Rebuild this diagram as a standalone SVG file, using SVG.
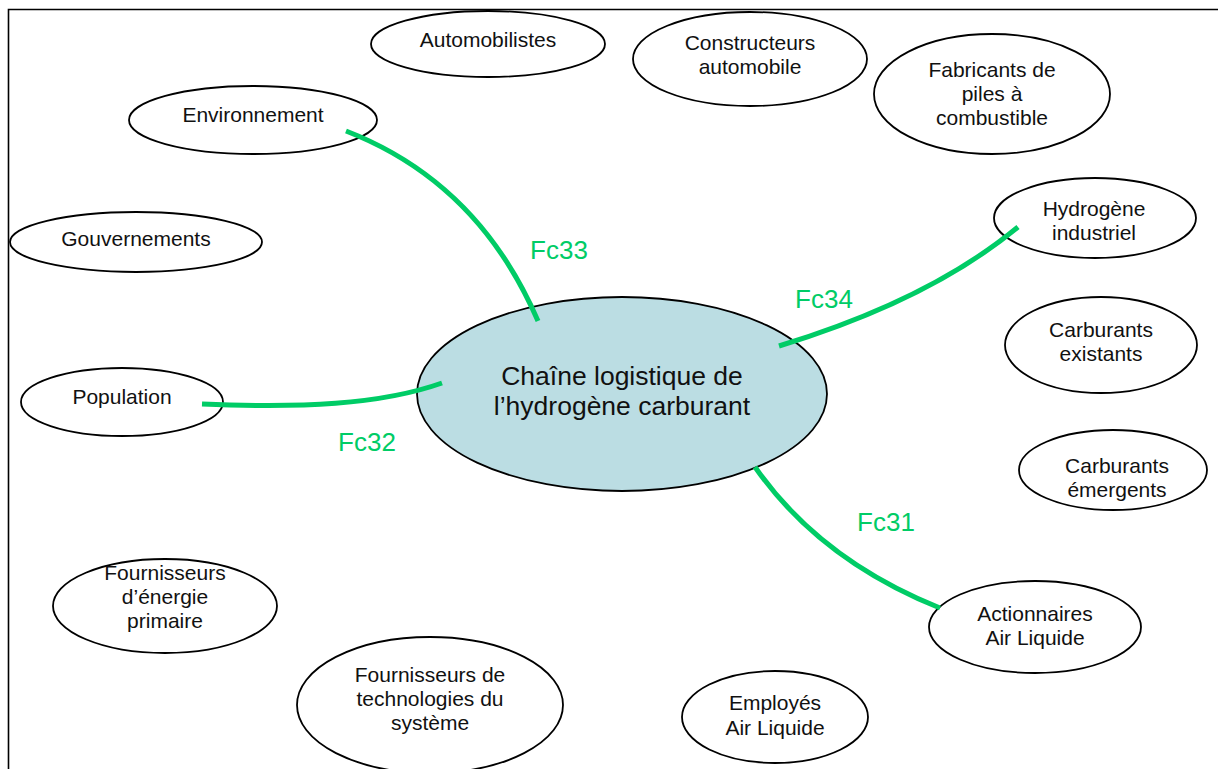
<svg xmlns="http://www.w3.org/2000/svg" width="1218" height="769" viewBox="0 0 1218 769">
<style>
.n{fill:#ffffff;stroke:#000000;stroke-width:1.8}
.c{fill:#bbdde3;stroke:#000000;stroke-width:1.8}
.t{font-family:"Liberation Sans",Arial,sans-serif;font-size:21px;fill:#111111;text-anchor:middle}
.tc{font-family:"Liberation Sans",Arial,sans-serif;font-size:26.5px;fill:#111111;text-anchor:middle}
.l{font-family:"Liberation Sans",Arial,sans-serif;font-size:26px;fill:#00cc66;text-anchor:middle}
.e{fill:none;stroke:#00cc66;stroke-width:5}
</style>
<rect width="1218" height="769" fill="#ffffff"/>
<path d="M8.5,769 V9.5 H1218" fill="none" stroke="#000000" stroke-width="1.6"/>
<g id="n-automobilistes"><ellipse class="n" cx="488" cy="44" rx="117" ry="33"/><text class="t" x="488" y="47">Automobilistes</text></g>
<g id="n-constructeurs"><ellipse class="n" cx="750" cy="59" rx="117" ry="47"/><text class="t" x="750" y="50">Constructeurs</text><text class="t" x="750" y="74">automobile</text></g>
<g id="n-fabricants"><ellipse class="n" cx="992" cy="94" rx="118" ry="60"/><text class="t" x="992" y="77">Fabricants de</text><text class="t" x="992" y="101">piles à</text><text class="t" x="992" y="125">combustible</text></g>
<g id="n-environnement"><ellipse class="n" cx="253" cy="120" rx="124" ry="34"/><text class="t" x="253" y="122">Environnement</text></g>
<g id="n-gouvernements"><ellipse class="n" cx="136" cy="242" rx="126" ry="30"/><text class="t" x="136" y="246">Gouvernements</text></g>
<g id="n-hydrogene"><ellipse class="n" cx="1095" cy="218" rx="101" ry="40"/><text class="t" x="1094" y="216">Hydrogène</text><text class="t" x="1094" y="240">industriel</text></g>
<g id="n-carb-existants"><ellipse class="n" cx="1101" cy="345" rx="96" ry="48"/><text class="t" x="1101" y="337">Carburants</text><text class="t" x="1101" y="361">existants</text></g>
<g id="n-carb-emergents"><ellipse class="n" cx="1113" cy="470" rx="94" ry="40"/><text class="t" x="1117" y="473">Carburants</text><text class="t" x="1117" y="497">émergents</text></g>
<g id="n-population"><ellipse class="n" cx="122" cy="402" rx="101" ry="34"/><text class="t" x="122" y="404">Population</text></g>
<g id="n-center"><ellipse class="c" cx="622" cy="394" rx="205" ry="97"/><text class="tc" x="622" y="385">Chaîne logistique de</text><text class="tc" x="622" y="415">l’hydrogène carburant</text></g>
<g id="n-fournisseurs-energie"><ellipse class="n" cx="165" cy="606" rx="112" ry="47"/><text class="t" x="165" y="580">Fournisseurs</text><text class="t" x="165" y="604">d’énergie</text><text class="t" x="165" y="628">primaire</text></g>
<g id="n-fournisseurs-techno"><ellipse class="n" cx="430" cy="705" rx="133" ry="68"/><text class="t" x="430" y="682">Fournisseurs de</text><text class="t" x="430" y="706">technologies du</text><text class="t" x="430" y="730">système</text></g>
<g id="n-actionnaires"><ellipse class="n" cx="1035" cy="627" rx="106" ry="46"/><text class="t" x="1035" y="621">Actionnaires</text><text class="t" x="1035" y="645">Air Liquide</text></g>
<g id="n-employes"><ellipse class="n" cx="775" cy="717" rx="93" ry="46"/><text class="t" x="775" y="710">Employés</text><text class="t" x="775" y="735">Air Liquide</text></g>
<g id="connectors">
<path class="e" d="M346,131 Q478,182 538,321"/>
<path class="e" d="M202,404 C300,408 380,405 442,383"/>
<path class="e" d="M779,346 Q930,300 1018,227"/>
<path class="e" d="M755,467 Q820,560 940,608"/>
<text class="l" x="559" y="259">Fc33</text>
<text class="l" x="367" y="451">Fc32</text>
<text class="l" x="824" y="308">Fc34</text>
<text class="l" x="886" y="531">Fc31</text>
</g>
</svg>
